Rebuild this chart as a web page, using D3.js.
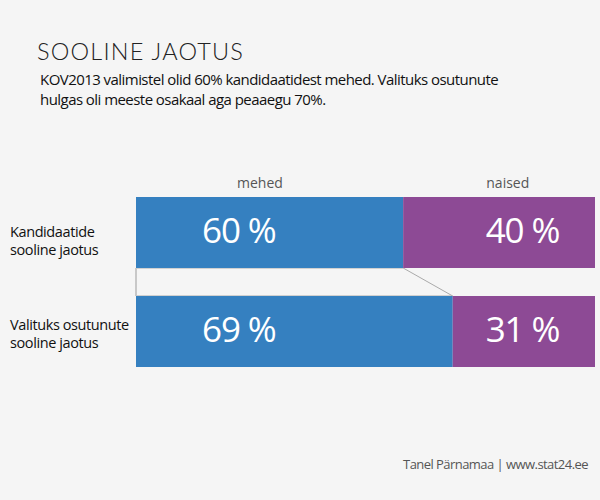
<!DOCTYPE html>
<html><head><meta charset="utf-8">
<script src="https://cdn.jsdelivr.net/npm/d3@7"></script>
<style>
html,body{margin:0;padding:0;background:#f5f5f5;}
svg{display:block;}
</style></head>
<body>
<script>
// Data
const rows = ["Kandidaatide|sooline jaotus", "Valituks osutunute|sooline jaotus"];
const series = ["mehed", "naised"];
const mehed = [58.2, 69];          // drawn share of men (bar length, %)
const mehedLabel = [60, 69];       // printed label values
const naisedLabel = [40, 31];
const titleText = "SOOLINE JAOTUS";
const subtitleLines = ["KOV2013 valimistel olid 60% kandidaatidest mehed. Valituks osutunute",
                       "hulgas oli meeste osakaal aga peaaegu 70%."];
const credit = "Tanel Pärnamaa | www.stat24.ee";

const W = 600, H = 500;
const colors = {mehed: "#3580c0", naised: "#8d4a95"};
const font = "'Open Sans', 'Noto Sans', sans-serif";

const svg = d3.select("body").append("svg").attr("width", W).attr("height", H);
svg.append("rect").attr("width", W).attr("height", H).attr("fill", "#f5f5f5");

const x = d3.scaleLinear().domain([0, 100]).range([136, 595]);
const y = d3.scaleBand().domain(d3.range(rows.length)).range([197, 367]).paddingInner(0.283);

// Title
svg.append("text").attr("x", 37).attr("y", 59.5)
  .attr("font-family", "Lato, sans-serif").attr("font-weight", 300)
  .attr("font-size", 23.5).attr("fill", "#222").attr("letter-spacing", 1.2)
  .text(titleText);

svg.selectAll(".sub").data(subtitleLines).enter().append("text")
  .attr("x", 40).attr("y", (d, i) => 85 + i * 19.5)
  .attr("font-family", font).attr("font-size", 15).attr("fill", "#111")
  .attr("letter-spacing", -0.55)
  .text(d => d);

// connectors between bars
const b0 = y(0) + y.bandwidth(), t1 = y(1);
svg.append("polygon")
  .attr("points", [[x(0), b0], [x(mehed[0]), b0], [x(mehed[1]), t1], [x(0), t1]].map(p => p.join(",")).join(" "))
  .attr("fill", "#f5f5f5").attr("stroke", "#aaa").attr("stroke-width", 1);
svg.append("line").attr("x1", x(0)).attr("x2", x(0)).attr("y1", b0).attr("y2", t1)
  .attr("stroke", "#c8c8c8").attr("stroke-width", 2);

// bars
const labelDy = [40, 34];
const g = svg.append("g");
rows.forEach((r, i) => {
  g.append("rect").attr("x", x(0)).attr("y", y(i)).attr("width", x(mehed[i]) - x(0))
    .attr("height", y.bandwidth()).attr("fill", colors.mehed);
  g.append("rect").attr("x", x(mehed[i])).attr("y", y(i)).attr("width", x(100) - x(mehed[i]))
    .attr("height", y.bandwidth()).attr("fill", colors.naised);
  const cy = y(i) + y.bandwidth() / 2 + 10.5;
  g.append("text").attr("x", x(22.4)).attr("y", cy).attr("text-anchor", "middle")
    .attr("font-family", font).attr("font-size", 35).attr("fill", "#fff")
    .attr("letter-spacing", -1.1)
    .text(mehedLabel[i] + " %");
  g.append("text").attr("x", x(84.2)).attr("y", cy).attr("text-anchor", "middle")
    .attr("font-family", font).attr("font-size", 35).attr("fill", "#fff")
    .attr("letter-spacing", -1.1)
    .text(naisedLabel[i] + " %");
  const lines = r.split("|");
  lines.forEach((ln, k) => {
    svg.append("text").attr("x", 10).attr("y", y(i) + labelDy[i] + k * 17.5)
      .attr("font-family", font).attr("font-size", 14.5).attr("fill", "#111")
      .attr("letter-spacing", -0.4)
      .text(ln);
  });
});

// series labels
svg.selectAll(".ser").data(series).enter().append("text")
  .attr("x", (d, i) => i === 0 ? x(27) : x(81)).attr("y", 188)
  .attr("text-anchor", "middle").attr("font-family", font).attr("font-size", 14)
  .attr("fill", "#555").text(d => d);

// credit
svg.append("text").attr("x", 588).attr("y", 469).attr("text-anchor", "end")
  .attr("font-family", font).attr("font-size", 13).attr("fill", "#555")
  .attr("letter-spacing", -0.55)
  .text(credit);
</script>
</body></html>
